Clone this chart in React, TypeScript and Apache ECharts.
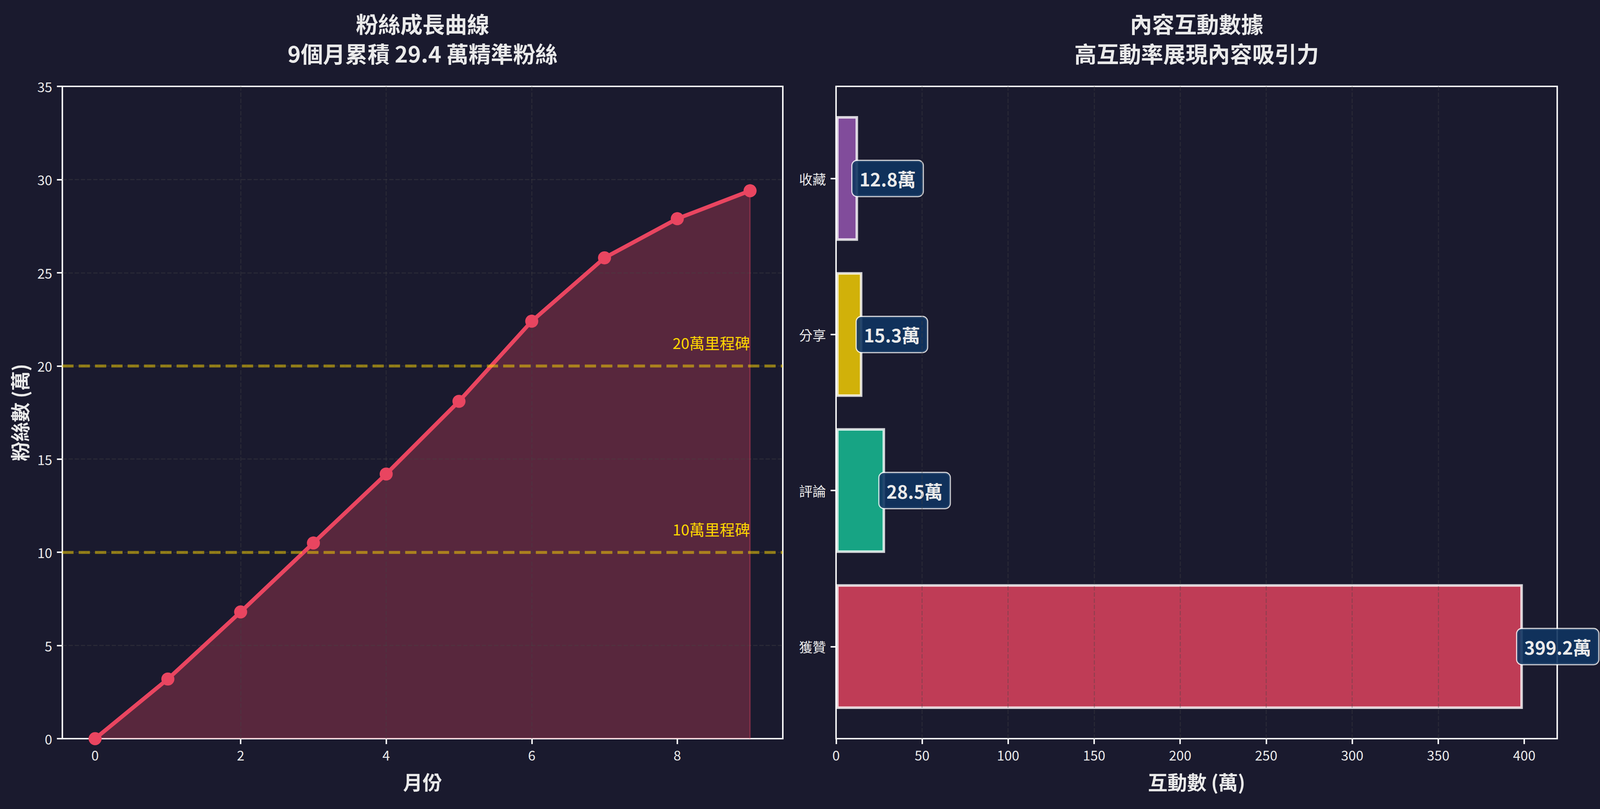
import React, { useEffect, useRef } from "react";
import * as echarts from "echarts";

// ---- data ----
const months = [0, 1, 2, 3, 4, 5, 6, 7, 8, 9];
const fans = [0, 3.2, 6.8, 10.5, 14.2, 18.1, 22.4, 25.8, 27.9, 29.4];
const milestones = [10, 20];
const milestoneLabels = ["10萬里程碑", "20萬里程碑"];
const xTicksLeft = [0, 2, 4, 6, 8];

const categories = ["獲贊", "評論", "分享", "收藏"];
const interactions = [399.2, 28.5, 15.3, 12.8];
const barColors = [
  "rgba(233,69,96,0.8)",
  "rgba(22,199,154,0.8)",
  "rgba(255,215,0,0.8)",
  "rgba(155,89,182,0.8)",
];
const xTicksRight = [0, 50, 100, 150, 200, 250, 300, 350, 400];

const leftTitle = ["粉絲成長曲線", "9個月累積 29.4 萬精準粉絲"];
const rightTitle = ["內容互動數據", "高互動率展現內容吸引力"];

// ---- style ----
const BG = "#1a1a2e";
const TEXT = "#eaeaea";
const FONT = '"Noto Sans CJK TC", "Noto Sans CJK SC", sans-serif';
const DESIGN_W = 4748;
const DESIGN_H = 2070;

export default function App() {
  const ref = useRef<HTMLDivElement>(null);

  useEffect(() => {
    if (!ref.current) return;
    const W = window.innerWidth || DESIGN_W;
    const H = window.innerHeight || DESIGN_H;
    const sx = W / DESIGN_W;
    const sy = H / DESIGN_H;
    const s = Math.min(sx, sy);
    const m = Math.sqrt(sx * sy);
    const X = (v: number) => v * sx;
    const Y = (v: number) => v * sy;
    const S = (v: number) => v * s;
    const M = (v: number) => v * m;

    const chart = echarts.init(ref.current, null, { renderer: "svg" });
    const last = months.length - 1;
    const lineData = months.map((mo, i) => [mo, fans[i]]);
    const rightMax = Math.max(...interactions) * 1.05;

    const tickLabel = { color: TEXT, fontSize: S(40), fontFamily: FONT };
    const tickStyle = { show: true, length: M(15), lineStyle: { color: "#ffffff", width: M(4) } };
    const gridLine = { color: "rgba(68,68,68,0.35)", width: M(3), type: [M(12), M(5)] };
    const axisName = { color: TEXT, fontSize: S(58), fontWeight: "bold", fontFamily: FONT };
    const titleStyle = { color: TEXT, fontSize: S(66), fontWeight: "bold", fontFamily: FONT, lineHeight: Y(76) };
    const frame = { show: true, borderColor: "#ffffff", borderWidth: M(4), backgroundColor: "transparent" };

    const titleLine = (text: string, cx: number, cy: number) => ({
      text,
      left: X(cx) - 5,
      top: Y(cy - 38) - 5,
      textAlign: "center",
      textStyle: titleStyle,
    });

    const option: any = {
      animation: false,
      backgroundColor: BG,
      title: [
        titleLine(leftTitle[0], 1254, 59),
        titleLine(leftTitle[1], 1254, 135),
        titleLine(rightTitle[0], 3551, 59),
        titleLine(rightTitle[1], 3551, 135),
      ],
      grid: [
        { left: X(185), right: X(DESIGN_W - 2323), top: Y(221), bottom: Y(DESIGN_H - 1890), ...frame },
        { left: X(2481), right: X(DESIGN_W - 4621), top: Y(221), bottom: Y(DESIGN_H - 1890), ...frame },
        { left: X(2481), right: X(DESIGN_W - 4621), top: Y(257), bottom: Y(DESIGN_H - 1854), show: false },
      ],
      xAxis: [
        {
          type: "value",
          gridIndex: 0,
          min: -0.45,
          max: 9.45,
          z: 2,
          axisLine: { show: false, onZero: false },
          axisTick: { ...tickStyle, customValues: xTicksLeft },
          axisLabel: { ...tickLabel, margin: Y(24), customValues: xTicksLeft },
          splitLine: { show: true, showMinLine: false, showMaxLine: false, lineStyle: gridLine },
          name: "月份",
          nameLocation: "middle",
          nameGap: Y(84),
          nameTextStyle: axisName,
        },
        {
          type: "value",
          gridIndex: 1,
          min: 0,
          max: rightMax,
          interval: 50,
          z: 3,
          axisLine: { show: false, onZero: false },
          axisTick: { ...tickStyle, customValues: xTicksRight },
          axisLabel: { ...tickLabel, margin: Y(24), customValues: xTicksRight },
          splitLine: { show: true, showMinLine: false, showMaxLine: false, lineStyle: gridLine },
          name: "互動數 (萬)",
          nameLocation: "middle",
          nameGap: Y(84),
          nameTextStyle: axisName,
        },
        {
          type: "value",
          gridIndex: 2,
          min: 0,
          max: rightMax,
          show: false,
        },
      ],
      yAxis: [
        {
          type: "value",
          gridIndex: 0,
          min: 0,
          max: 35,
          interval: 5,
          z: 2,
          axisLine: { show: false, onZero: false },
          axisTick: tickStyle,
          axisLabel: { ...tickLabel, margin: X(30) },
          splitLine: { show: true, showMinLine: false, showMaxLine: false, lineStyle: gridLine },
          name: "粉絲數 (萬)",
          nameLocation: "middle",
          nameRotate: 90,
          nameGap: X(99),
          nameTextStyle: axisName,
        },
        { type: "value", gridIndex: 1, min: 0, max: 1, show: false },
        {
          type: "category",
          gridIndex: 2,
          data: categories,
          axisLine: { show: false, onZero: false },
          axisTick: { ...tickStyle, alignWithLabel: true },
          axisLabel: { ...tickLabel, margin: X(30) },
          splitLine: { show: false },
        },
      ],
      series: [
        {
          type: "line",
          xAxisIndex: 0,
          yAxisIndex: 0,
          data: lineData,
          symbol: "none",
          lineStyle: { width: 0 },
          areaStyle: { color: "#e94560", opacity: 0.3 },
          z: 1,
          silent: true,
          markLine: {
            silent: true,
            symbol: ["none", "none"],
            label: { show: false },
            lineStyle: { color: "rgba(233,69,96,0.35)", width: M(4), type: "solid" },
            data: [[{ coord: [months[last], 0] }, { coord: [months[last], fans[last]] }]],
          },
        },
        {
          type: "line",
          xAxisIndex: 0,
          yAxisIndex: 0,
          data: lineData,
          symbol: "circle",
          symbolSize: M(36),
          lineStyle: { color: "#e94560", width: M(11) },
          itemStyle: { color: "#e94560" },
          z: 4,
          markLine: {
            silent: true,
            symbol: ["none", "none"],
            label: { show: false },
            lineStyle: { color: "rgba(255,215,0,0.5)", width: M(8), type: [M(31), M(14)] },
            data: milestones.map((v) => ({ yAxis: v })),
          },
        },
        {
          type: "scatter",
          xAxisIndex: 0,
          yAxisIndex: 0,
          symbolSize: 1,
          itemStyle: { color: "#ffd700", opacity: 0 },
          z: 5,
          silent: true,
          data: milestones.map((v, i) => ({
            value: [months[last], v],
            label: { formatter: milestoneLabels[i] },
          })),
          label: {
            show: true,
            position: "top",
            align: "right",
            distance: Y(40),
            color: "#ffd700",
            opacity: 1,
            textBorderWidth: 0,
            fontSize: S(45),
            fontFamily: FONT,
          },
        },
        {
          type: "bar",
          xAxisIndex: 2,
          yAxisIndex: 2,
          barWidth: "80%",
          z: 2,
          data: interactions.map((v, i) => ({ value: v, itemStyle: { color: barColors[i] } })),
          itemStyle: { borderColor: "rgba(255,255,255,0.8)", borderWidth: M(7) },
          label: {
            show: true,
            position: "right",
            distance: -X(17),
            formatter: (p: any) => `${p.value}萬`,
            color: TEXT,
            fontSize: S(54),
            lineHeight: Y(54),
            fontWeight: "bold",
            fontFamily: FONT,
            backgroundColor: "rgba(15,52,96,0.9)",
            borderColor: "rgba(255,255,255,0.8)",
            borderWidth: M(3),
            borderRadius: M(13),
            padding: [Y(18), X(21)],
          },
        },
      ],
    };

    chart.setOption(option);
    return () => chart.dispose();
  }, []);

  return (
    <div
      ref={ref}
      style={{ position: "fixed", left: 0, top: 0, width: "100vw", height: "100vh", background: BG }}
    />
  );
}
